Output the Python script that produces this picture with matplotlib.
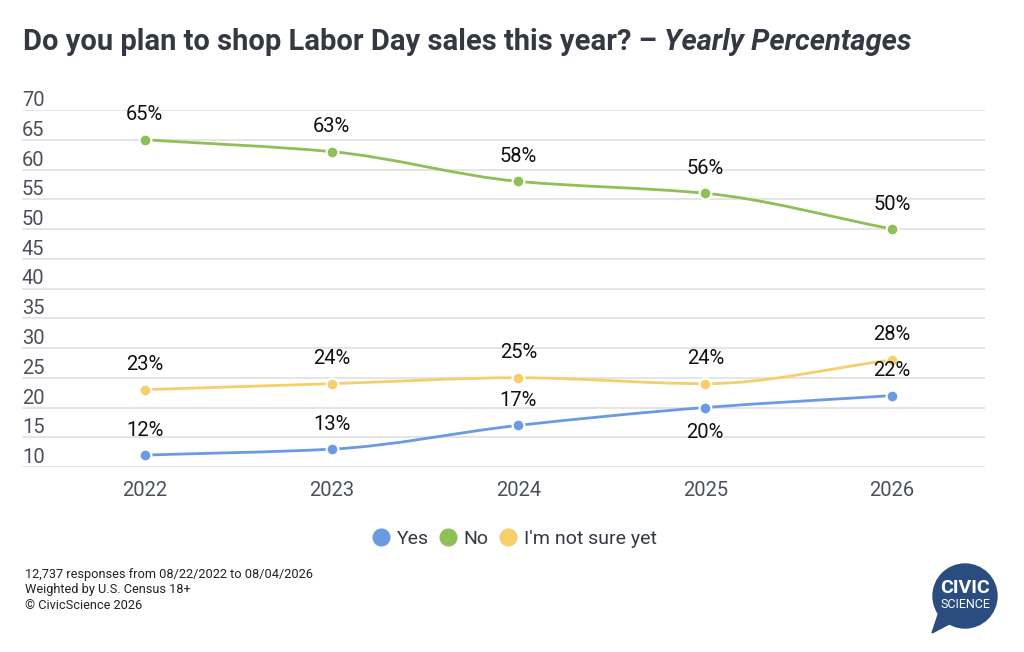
import numpy as np
import matplotlib
matplotlib.use("Agg")
import matplotlib.pyplot as plt
from matplotlib.path import Path
from matplotlib.patches import PathPatch, Circle, Polygon

plt.rcParams['font.family'] = ['Roboto', 'DejaVu Sans']

years = ["2022", "2023", "2024", "2025", "2026"]
yes_vals = [12, 13, 17, 20, 22]
no_vals = [65, 63, 58, 56, 50]
unsure_vals = [23, 24, 25, 24, 28]
series_names = ["Yes", "No", "I'm not sure yet"]
y_ticks = [10, 15, 20, 25, 30, 35, 40, 45, 50, 55, 60, 65, 70]

colors = ["#6a9be2", "#8fbf57", "#f5cf6b"]
# label above (+1) or below (-1) the point
yes_side = [1, 1, 1, -1, 1]


def monotone_tangents(x, y):
    x = np.asarray(x, float)
    y = np.asarray(y, float)
    d = np.diff(y) / np.diff(x)
    m = np.zeros_like(y)
    m[0] = d[0]
    m[-1] = d[-1]
    for i in range(1, len(y) - 1):
        if d[i - 1] * d[i] <= 0:
            m[i] = 0
        else:
            m[i] = 2 / (1 / d[i - 1] + 1 / d[i])
    return m


def smooth_path(x, y):
    m = monotone_tangents(x, y)
    verts = [(x[0], y[0])]
    codes = [Path.MOVETO]
    for i in range(len(x) - 1):
        h = (x[i + 1] - x[i]) / 3
        verts += [(x[i] + h, y[i] + m[i] * h),
                  (x[i + 1] - h, y[i + 1] - m[i + 1] * h),
                  (x[i + 1], y[i + 1])]
        codes += [Path.CURVE4] * 3
    return Path(verts, codes)


fig = plt.figure(figsize=(10.24, 6.52), dpi=100)
ax = fig.add_axes([22 / 1024, 1 - 467 / 652, 963 / 1024, 357 / 652])

x = np.arange(len(years))
ax.set_xlim(-123 / 187, 4 + 93 / 187)
ax.set_ylim(10, 70)

for v in y_ticks:
    ax.axhline(v, color="#e3e3e3", lw=1.3, zorder=0)
    ax.text(0.0, v, str(v), transform=ax.get_yaxis_transform(),
            ha="left", va="bottom", fontsize=14.5, color="#4a4f5a")

ax.set_yticks([])
ax.set_xticks(x)
ax.set_xticklabels(years, fontsize=14.5, color="#4a4f5a")
ax.tick_params(axis="x", length=0, pad=10)
for s in ax.spines.values():
    s.set_visible(False)

all_vals = [yes_vals, no_vals, unsure_vals]
for vals, c in zip(all_vals, colors):
    ax.add_patch(PathPatch(smooth_path(x, vals), fill=False, edgecolor=c,
                           lw=2, zorder=2))
    ax.plot(x, vals, "o", ms=8.5, color=c, mec="white", mew=1.5, zorder=3)

sides = [yes_side, [1] * 5, [1] * 5]
for vals, side in zip(all_vals, sides):
    for xi, v, s in zip(x, vals, side):
        ax.annotate(f"{v}%", (xi, v), xytext=(0, 25 * s), textcoords="offset pixels",
                    ha="center", va="center", fontsize=14.5, color="#111111",
                    zorder=4)

fig.text(23 / 1024, 1 - 42 / 652, "Do you plan to shop Labor Day sales this year? – ",
         fontsize=21, fontweight="bold", color="#333842", va="center", ha="left")
t = fig.texts[-1]
fig.canvas.draw()
bb = t.get_window_extent()
fig.text(bb.x1 / 1024, 1 - 42 / 652, "Yearly Percentages", fontsize=21,
         fontweight="bold", style="italic", color="#333842", va="center", ha="left")

# legend
handles = [plt.Line2D([], [], ls="", marker="o", ms=12, color=c) for c in colors]
fig.legend(handles, series_names, loc="center", bbox_to_anchor=(0.5, 1 - 539 / 652),
           ncol=3, frameon=False, fontsize=14, handletextpad=0.1, handlelength=1.4,
           columnspacing=0.3, labelcolor="#333842")

footer = "12,737 responses from 08/22/2022 to 08/04/2026\nWeighted by U.S. Census 18+\n© CivicScience 2026"
fig.text(25 / 1024, 1 - 568 / 652, footer, fontsize=9.2, color="#222222",
         va="top", ha="left", linespacing=1.25)

# logo
lax = fig.add_axes([925 / 1024, 1 - 638 / 652, 80 / 1024, 80 / 652])
lax.set_xlim(0, 80)
lax.set_ylim(0, 80)
lax.set_aspect("equal")
lax.axis("off")
navy = "#2b4c7e"
lax.add_patch(Circle((40, 42), 32, color=navy))
lax.add_patch(Polygon([(14, 26), (7, 5), (28, 16)], closed=True, color=navy))
lax.text(40, 50, "CIVIC", ha="center", va="center", fontsize=14,
         fontweight="bold", color="white")
lax.text(40, 34, "SCIENCE", ha="center", va="center", fontsize=9,
         color="white")

fig.savefig("out.png", dpi=100)
